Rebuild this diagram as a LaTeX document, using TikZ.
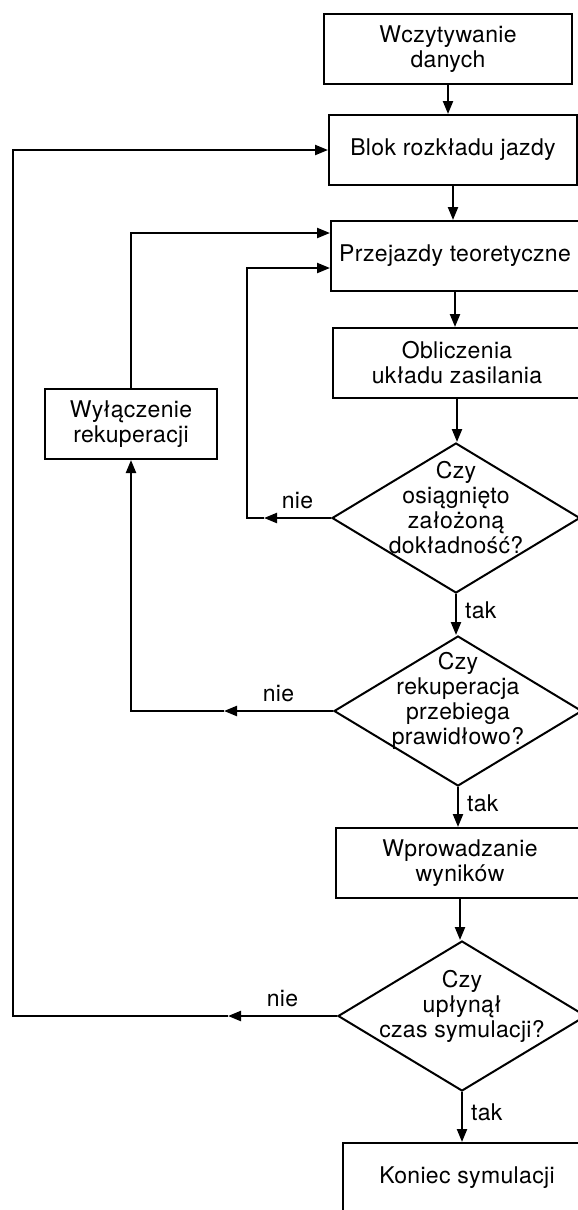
\documentclass[tikz,border=0pt]{standalone}
\usepackage{fontspec}
\setmainfont{TeX Gyre Heros}[LetterSpace=1.5]
\usetikzlibrary{arrows.meta,shapes.geometric}

\begin{document}
\begin{tikzpicture}[x=0.5pt, y=-0.5pt,
    font=\fontsize{11.5}{12.5}\selectfont,
    box/.style={draw, line width=1pt, minimum width=124pt, minimum height=35pt,
                inner sep=2pt, align=center},
    decision/.style={draw, diamond, line width=1pt, minimum width=124pt,
                minimum height=75pt, inner sep=0pt},
    dectext/.style={align=center, inner sep=0pt, yshift=5pt},
    flow/.style={line width=1.1pt, -{Triangle[length=6.5pt,width=5pt]}},
    answer/.style={inner sep=4pt},
]
  \useasboundingbox (0,0) rectangle (578,1210);
  \clip (0,0) rectangle (578,1210);

  % main column
  \node[box] (load)      at (448,49)  {Wczytywanie\\danych};
  \node[box] (timetable) at (453,150) {Blok rozkładu jazdy};
  \node[box] (runs)      at (455,256) {Przejazdy teoretyczne};
  \node[box] (supply)    at (457,363) {Obliczenia\\układu zasilania};
  \node[decision] (acc)  at (456,518) {};
  \node[dectext] (acctext) at (acc) {Czy\\osiągnięto\\założoną\\dokładność?};
  \node[decision] (regen) at (458,711) {};
  \node[dectext] (regentext) at (regen) {Czy\\rekuperacja\\przebiega\\prawidłowo?};
  \node[box] (output)    at (460,863) {Wprowadzanie\\wyników};
  \node[decision] (time) at (462,1016) {};
  \node[dectext] (timetext) at (time) {Czy\\upłynął\\czas symulacji?};
  \node[box] (stop)      at (467,1178) {Koniec symulacji};

  % side branch
  \node[box, minimum width=86pt] (regenoff) at (131,424) {Wyłączenie\\rekuperacji};

  \draw[flow] (load) -- (load |- timetable.north);
  \draw[flow] (timetable) -- (timetable |- runs.north);
  \draw[flow] (runs) -- (runs |- supply.north);
  \draw[flow] (supply) -- (supply |- acc.north);
  \draw[flow] (acc) -- node[answer, right, pos=0.4] {tak} (acc |- regen.north);
  \draw[flow] (regen) -- node[answer, right, pos=0.4] {tak} (regen |- output.north);
  \draw[flow] (output) -- (output |- time.north);
  \draw[flow] (time) -- node[answer, right, pos=0.4] {tak} (time |- stop.north);

  % return lines
  \coordinate (tip1) at (264,518);
  \coordinate (tip2) at (224,711);
  \coordinate (tip3) at (228,1016);
  \coordinate (inner) at (247,0);
  \coordinate (rail) at (13,0);

  \draw[flow] (acc.west) -- node[answer, above] {nie} (tip1);
  \draw[flow] (tip1) -- (tip1 -| inner) |- ([yshift=-6pt]runs.west);
  \draw[flow] (regen.west) -- node[answer, above] {nie} (tip2);
  \draw[flow] (tip2) -| (regenoff.south);
  \draw[flow] (regenoff.north) |- ([yshift=11.5pt]runs.west);
  \draw[flow] (time.west) -- node[answer, above] {nie} (tip3);
  \draw[flow] (tip3) -- (tip3 -| rail) |- (timetable.west);
\end{tikzpicture}
\end{document}
